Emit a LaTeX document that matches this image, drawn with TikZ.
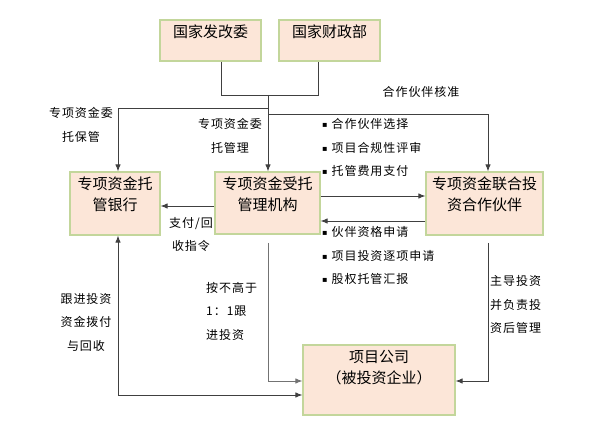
\documentclass[tikz,border=0pt]{standalone}
\usepackage{fontspec}
\setmainfont{Noto Sans CJK SC}
\newfontfamily\lblfont[LetterSpace=8]{Noto Sans CJK SC}
\newfontfamily\dejavu{DejaVu Sans}
\usetikzlibrary{arrows.meta,shadows}
\definecolor{boxfill}{HTML}{FCE6D8}
\definecolor{boxline}{HTML}{C3D69B}
\definecolor{linec}{HTML}{404040}
\newcommand\boxtxt[3]{\parbox[c][#2bp][t]{#1bp}{\centering\fontsize{15bp}{21bp}\selectfont\rule{0pt}{17.5bp}#3}}
\newcommand\bul{\raisebox{1bp}{\dejavu\fontsize{8bp}{8bp}\selectfont ▪}\hspace{4bp}}
\tikzset{
  box/.style={draw=boxline, line width=1.2bp, fill=boxfill, inner sep=0pt,
    drop shadow={shadow xshift=1.2bp, shadow yshift=-1.2bp, opacity=0.35, fill=black!60}},
  lbl/.style={font=\lblfont\fontsize{12bp}{23.5bp}\selectfont, inner sep=0pt},
  conn/.style={draw=linec, line width=0.9bp},
  arr/.style={conn, -{Latex[length=7bp,width=5.5bp]}},
  darr/.style={conn, {Latex[length=7bp,width=5.5bp]}-{Latex[length=7bp,width=5.5bp]}}
}
\begin{document}
\begin{tikzpicture}[x=1bp,y=-1bp]
\useasboundingbox[fill=white] (0,0) rectangle (600,435);
% boxes
\node[box] (fgw) at (210.5,40.5) {\boxtxt{101}{41}{国家发改委}};
\node[box] (czb) at (329.5,40.5) {\boxtxt{101}{41}{国家财政部}};
\node[box] (bank) at (115,203.5) {\boxtxt{90}{63}{专项资金托\\管银行}};
\node[box] (st) at (267.5,203) {\boxtxt{105}{62}{专项资金受托\\管理机构}};
\node[box] (hb) at (484.5,203.5) {\boxtxt{117}{63}{专项资金联合投\\资合作伙伴}};
\node[box] (xm) at (379,380) {\boxtxt{152}{70}{项目公司\\（被投资企业）}};
% helper coordinates
\coordinate (ja) at (221,95);
\coordinate (jb) at (318,95);
\coordinate (jc) at (268,95);
\coordinate (jl) at (268,108);
\coordinate (cl) at (118,108);
\coordinate (jr) at (268,114);
\coordinate (cr) at (488,114);
\coordinate (y196) at (0,196);
\coordinate (y221) at (0,221);
\coordinate (y206) at (0,206);
\coordinate (sd) at (268,243);
\coordinate (sdb) at (268,381);
\coordinate (hd) at (488,243);
\coordinate (hdb) at (488,381);
\coordinate (bb) at (118,395);
% connectors
\draw[conn] (fgw.south -| ja) -- (ja) -- (jb) -- (czb.south -| jb);
\draw[arr] (jc) -- (st.north -| jc);
\draw[arr] (jl) -- (cl) -- (bank.north -| cl);
\draw[arr] (jr) -- (cr) -- (hb.north -| cr);
\draw[arr] (st.east |- y196) -- (hb.west |- y196);
\draw[arr] (hb.west |- y221) -- (st.east |- y221);
\draw[arr] (st.west |- y206) -- (bank.east |- y206);
\draw[arr, draw=black!55] (sd) -- (sdb) -- (xm.west |- sdb);
\draw[darr] (bank.south -| bb) -- (bb) -- (xm.west |- bb);
\draw[arr] (hd) -- (hdb) -- (xm.east |- hdb);
% labels
\node[lbl, align=center] (l1) at (81,125) {专项资金委\\托保管};
\node[lbl, align=center] (l2) at (230,136) {专项资金委\\托管理};
\node[lbl] (l3) at (421,92) {合作伙伴核准};
\node[lbl, align=left, anchor=west] (l4) at (322,147.5) {\bul 合作伙伴选择\\\bul 项目合规性评审\\\bul 托管费用支付};
\node[lbl, align=center] (l5) at (191,234.5) {支付/回\\收指令};
\node[lbl, align=left, anchor=west] (l6) at (322,255.5) {\bul 伙伴资格申请\\\bul 项目投资逐项申请\\\bul 股权托管汇报};
\node[lbl, align=center] (l7) at (86,322) {跟进投资\\资金拨付\\与回收};
\node[lbl, align=left, anchor=west] (l8) at (206,311) {按不高于\\1：1跟\\进投资};
\node[lbl, align=left, anchor=west] (l9) at (490,304.5) {主导投资\\并负责投\\资后管理};
\end{tikzpicture}
\end{document}
